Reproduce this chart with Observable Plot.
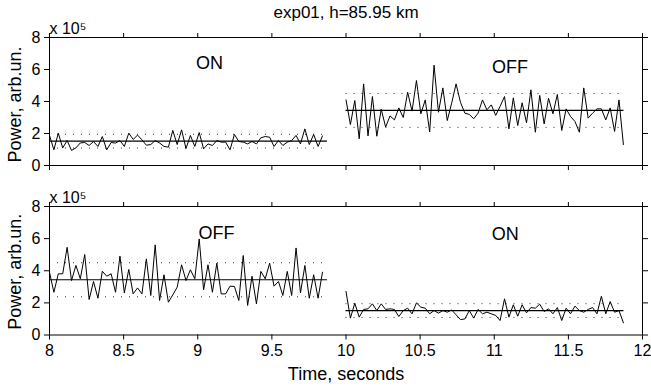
<!DOCTYPE html>
<html><head><meta charset="utf-8">
<script src="https://cdn.jsdelivr.net/npm/d3@7"></script>
<script src="https://cdn.jsdelivr.net/npm/@observablehq/plot@0.6"></script>
<style>
body{margin:0;background:#fff;}
#chart{position:relative;width:651px;height:386px;background:#fff;}
#chart svg{position:absolute;left:0;overflow:visible;}
</style></head><body><div id="chart"></div>
<script>
const title = "exp01, h=85.95 km";
const yLabel = "Power, arb.un.";
const xLabel = "Time, seconds";
const scaleLabel = "x 10⁵";
const xTicks = [8, 8.5, 9, 9.5, 10, 10.5, 11, 11.5, 12];
const yTicks = [0, 2, 4, 6, 8];
const dt = 0.0297;          // sample spacing, seconds
const segLength = 1.875;    // length of mean/deviation lines, seconds
const onMean = 1.52, onDev = 0.43;
const offMean = 3.44, offDev = 1.06;

// values in units of 1e5
const topOn = [1.88,0.98,2.02,1.10,1.56,0.94,1.10,1.41,1.44,1.25,1.50,1.19,1.81,0.98,1.44,1.40,1.56,1.19,2.02,1.63,1.90,1.60,1.27,1.31,1.56,1.41,1.19,1.15,2.19,1.31,2.23,1.06,
  1.88,1.19,2.06,1.04,1.35,1.25,1.56,1.46,1.46,0.98,1.94,1.50,1.46,1.35,1.50,1.35,1.73,1.81,1.77,1.19,1.56,1.25,1.46,1.56,1.88,1.35,2.29,1.31,1.94,1.19,1.85];
const topOff = [4.10,2.56,4.06,1.67,5.10,1.85,4.31,1.83,3.52,2.40,3.10,2.85,3.60,3.00,4.58,3.40,5.31,3.23,4.10,2.10,6.27,3.33,4.85,2.81,3.90,5.10,3.95,3.27,3.19,2.92,3.27,4.10,3.48,3.79,
  3.13,3.70,4.31,2.29,4.23,2.50,3.92,2.67,4.73,2.08,4.38,2.60,4.20,3.23,4.44,2.19,3.54,3.06,2.75,2.08,4.85,2.96,3.27,3.54,3.54,2.85,3.60,2.13,4.10,1.31];
const botOff = [3.91,2.66,3.81,3.81,5.46,3.39,4.33,3.50,5.01,2.21,3.33,2.29,3.97,3.66,3.81,2.66,4.91,2.62,4.08,2.56,2.93,2.56,4.74,2.46,5.61,2.15,3.75,2.04,2.50,2.98,4.37,3.39,
  4.06,3.50,5.98,2.81,4.37,2.66,4.47,2.56,2.56,3.04,3.02,2.15,4.95,1.84,3.66,1.94,3.96,3.50,4.47,3.04,3.33,2.46,3.96,2.46,5.42,2.62,4.33,2.29,3.75,2.29,3.91];
const botOn = [2.71,1.05,1.98,1.11,1.59,1.63,1.94,1.52,1.94,1.59,1.63,1.59,1.15,1.52,1.67,1.32,2.00,1.73,1.67,1.32,1.52,1.36,1.52,1.42,1.56,1.26,0.96,1.00,1.52,1.05,1.59,1.32,
  1.42,1.32,1.22,0.90,2.25,1.11,1.88,1.17,1.88,1.38,1.71,1.67,1.92,1.46,1.63,1.32,1.71,0.90,1.67,1.32,1.80,1.52,1.42,1.59,1.71,1.32,2.41,1.32,2.08,1.42,1.52,0.76];

const topLabels = [{x: 9.08, y: 6.4, t: "ON"}, {x: 11.106, y: 6.14, t: "OFF"}];
const botLabels = [{x: 9.127, y: 6.33, t: "OFF"}, {x: 11.074, y: 6.27, t: "ON"}];

const FONT = "'Liberation Sans', Arial, Helvetica, sans-serif";

function panel({segments, labels, height, marginTop, marginBottom, bottomAxis, withTitle}) {
  const marks = [];
  for (const s of segments) {
    const pts = s.values.map((v, i) => ({t: s.start + i * dt, v}));
    const x1 = s.start, x2 = s.start + segLength;
    marks.push(Plot.ruleY([s.mean + s.dev, s.mean - s.dev], {x1, x2, stroke: "#000", strokeWidth: 1, strokeDasharray: "1,7", strokeOpacity: 0.8}));
    marks.push(Plot.line(pts, {x: "t", y: "v", stroke: "#000", strokeWidth: 1}));
    marks.push(Plot.ruleY([s.mean], {x1, x2, stroke: "#000", strokeWidth: 1.2}));
  }
  marks.push(Plot.text(labels, {x: "x", y: "y", text: "t", fontSize: 18, fill: "#000"}));
  marks.push(Plot.text([scaleLabel], {frameAnchor: "top-left", textAnchor: "start", lineAnchor: "bottom", dy: -4, fontSize: 16, fill: "#000"}));
  marks.push(Plot.text([yLabel], {frameAnchor: "left", textAnchor: "middle", lineAnchor: "middle", rotate: -90, dx: -34, dy: withTitle ? 3 : 1, fontSize: 18, fill: "#000"}));
  if (withTitle) marks.push(Plot.text([title], {frameAnchor: "top", textAnchor: "middle", lineAnchor: "middle", dy: -25, fontSize: 17, fill: "#000"}));
  if (bottomAxis) marks.push(Plot.text([xLabel], {frameAnchor: "bottom", textAnchor: "middle", lineAnchor: "middle", dy: 39, fontSize: 18, fill: "#000"}));
  return Plot.plot({
    width: 651, height, marginLeft: 49, marginRight: 9, marginTop, marginBottom,
    x: {domain: [8, 12]},
    y: {domain: [0, 8]},
    style: {fontFamily: FONT, fontSize: "16px", color: "#000", background: "transparent", overflow: "visible"},
    marks: [
      Plot.axisX({anchor: "bottom", ticks: xTicks, tickSize: 5, tickPadding: 5, fontSize: 16, label: null,
        tickFormat: bottomAxis ? (d => String(d)) : (() => "")}),
      Plot.axisX({anchor: "top", ticks: xTicks, tickSize: 5, label: null, tickFormat: () => ""}),
      Plot.axisY({anchor: "left", ticks: yTicks, tickSize: 5, fontSize: 16, label: null, tickFormat: d => String(d)}),
      Plot.axisY({anchor: "right", ticks: yTicks, tickSize: 5, label: null, tickFormat: () => ""}),
      Plot.frame({stroke: "#000", strokeWidth: 1}),
      ...marks
    ]
  });
}

const chart = document.getElementById("chart");
const top1 = panel({
  segments: [{values: topOn, start: 8, mean: onMean, dev: onDev}, {values: topOff, start: 10, mean: offMean, dev: offDev}],
  labels: topLabels, height: 186, marginTop: 37, marginBottom: 21, bottomAxis: false, withTitle: true
});
top1.style.top = "0px";
const bot = panel({
  segments: [{values: botOff, start: 8, mean: offMean, dev: offDev}, {values: botOn, start: 10, mean: onMean, dev: onDev}],
  labels: botLabels, height: 200, marginTop: 20, marginBottom: 51.5, bottomAxis: true, withTitle: false
});
bot.style.top = "186px";
chart.append(top1, bot);
</script></body></html>
